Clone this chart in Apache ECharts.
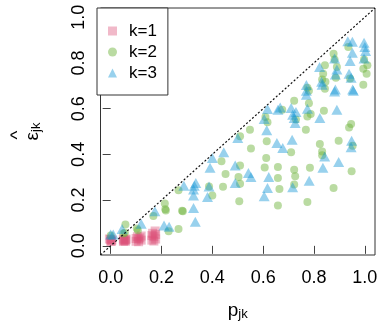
<!DOCTYPE html>
<html lang="en">
<head>
    <meta charset="UTF-8">
    <title>eps hat vs p</title>
    <script src="https://cdn.jsdelivr.net/npm/echarts@6/dist/echarts.min.js"></script>
</head>
<body style="margin:0">
<div id="main" style="width: 381px;height: 328px;"></div>
<script>
    // tick positions on both axes
    var axisTicks = [0, 0.2, 0.4, 0.6, 0.8, 1.0];

    // k=1 : [p, eps]
    var k1 = [[0.0,0.02],[0.005,0.025],[-0.005,0.03],[0.003,0.02],[0.0,0.028],
        [0.05,0.02],[0.055,0.025],[0.06,0.03],[0.052,0.022],[0.058,0.02],[0.06,0.026],[0.05,0.03],
        [0.10,0.02],[0.11,0.03],[0.12,0.025],[0.105,0.04],[0.115,0.035],[0.12,0.043],[0.11,0.018],[0.10,0.032],
        [0.162,0.025],[0.17,0.04],[0.177,0.03],[0.165,0.055],[0.175,0.065],[0.17,0.021],[0.162,0.045],[0.177,0.05]];
    // k=2
    var k2 = [[0.0,0.045],[0.058,0.093],[0.056,0.057],[0.107,0.068],[0.103,0.076],[0.05,0.054],[0.168,0.13],
        [0.213,0.185],[0.217,0.155],[0.215,0.16],[0.281,0.153],[0.228,0.064],[0.267,0.074],[0.267,0.243],
        [0.609,0.563],[0.617,0.54],[0.548,0.508],[0.509,0.479],[0.614,0.457],[0.552,0.426],[0.436,0.37],
        [0.612,0.384],[0.509,0.351],[0.606,0.343],[0.658,0.345],[0.452,0.314],[0.503,0.301],[0.658,0.297],
        [0.387,0.26],[0.509,0.272],[0.442,0.258],[0.664,0.249],[0.4,0.22],[0.506,0.195],[0.658,0.176],[0.284,0.151],
        [0.935,0.869],[0.877,0.84],[0.881,0.815],[0.997,0.815],[0.843,0.79],[0.89,0.782],[1.01,0.79],[0.994,0.774],
        [1.007,0.752],[0.886,0.735],[0.836,0.752],[0.942,0.732],[0.832,0.727],[0.845,0.717],[0.994,0.704],
        [0.774,0.691],[0.843,0.687],[0.78,0.678],[0.722,0.634],[0.78,0.624],[0.675,0.595],[0.729,0.552],
        [0.839,0.591],[0.787,0.576],[0.774,0.566],[0.768,0.508],[0.946,0.533],[0.938,0.518],[0.823,0.445],
        [0.897,0.46],[0.952,0.438],[0.71,0.409],[0.832,0.413],[0.832,0.396],[0.722,0.333],[0.784,0.341],
        [0.948,0.326],[0.726,0.304],[0.722,0.268],[0.877,0.253],[0.774,0.192]];
    // k=3
    var k3 = [[0.0,0.05],[0.01,0.05],[0.045,0.074],[0.12,0.097],[0.174,0.151],[0.21,0.089],[0.23,0.083],[0.288,0.263],
        [0.617,0.598],[0.658,0.595],[0.604,0.555],[0.614,0.505],[0.5,0.472],[0.654,0.45],[0.445,0.409],[0.4,0.384],
        [0.391,0.341],[0.49,0.351],[0.542,0.319],[0.552,0.301],[0.622,0.301],[0.335,0.275],[0.329,0.263],[0.326,0.246],
        [0.387,0.26],[0.49,0.275],[0.617,0.253],[0.326,0.22],[0.381,0.214],[0.604,0.217],[0.326,0.166],[0.333,0.105],
        [0.933,0.895],[0.951,0.892],[0.997,0.888],[1.0,0.869],[1.003,0.852],[0.951,0.844],[0.881,0.819],[0.997,0.819],
        [0.942,0.808],[0.822,0.782],[0.89,0.771],[0.884,0.749],[0.938,0.752],[0.946,0.735],[0.83,0.717],[0.77,0.703],
        [0.884,0.684],[0.952,0.684],[0.832,0.704],[0.881,0.675],[0.955,0.678],[0.77,0.678],[0.77,0.661],[0.774,0.6],
        [0.667,0.605],[0.71,0.603],[0.729,0.585],[0.716,0.573],[0.722,0.559],[0.726,0.537],[0.823,0.559],[0.89,0.595],
        [0.714,0.464],[0.677,0.428],[0.948,0.46],[0.946,0.431],[0.842,0.391],[0.897,0.367],[0.835,0.341],[0.781,0.285],
        [0.716,0.256]];
    // y = x reference line
    var diag = [[-0.04,-0.04],[1.04,1.04]];

    var font = 'Liberation Sans, Arial, sans-serif';
    var myChart = echarts.init(document.getElementById('main'));
    var option = {
        backgroundColor: '#fff',
        animation: false,
        textStyle: {fontFamily: font},
        grid: {
            left: 97, right: 6, top: 8, bottom: 73,
            show: true,
            borderColor: '#333',
            borderWidth: 1
        },
        legend: {
            left: 97, top: 8,
            orient: 'vertical',
            data: ['k=1', 'k=2', 'k=3'],
            itemWidth: 9, itemHeight: 9,
            itemGap: 3,
            padding: [14, 11, 13, 11],
            borderColor: '#333',
            borderWidth: 1,
            backgroundColor: '#fff',
            textStyle: {fontSize: 17, color: '#000', lineHeight: 18, padding: [0, 0, 0, 7]}
        },
        xAxis: {
            type: 'value',
            min: -0.04, max: 1.04,
            name: '{p|p}{sub|jk}',
            nameLocation: 'middle',
            nameGap: 46,
            nameTextStyle: {
                rich: {
                    p: {fontSize: 19, color: '#000', lineHeight: 20},
                    sub: {fontSize: 13, color: '#000', lineHeight: 10, verticalAlign: 'bottom'}
                }
            },
            axisLine: {show: false},
            axisTick: {show: true, length: 8, customValues: axisTicks, lineStyle: {color: '#444'}},
            axisLabel: {
                customValues: axisTicks, margin: 14, fontSize: 18, color: '#000',
                formatter: function (v) { return v.toFixed(1); }
            },
            splitLine: {show: false}
        },
        yAxis: {
            type: 'value',
            min: -0.04, max: 1.04,
            name: '{hat|^}\n{e|ε}{sub|jk}',
            nameLocation: 'middle',
            nameGap: 58,
            nameTextStyle: {
                rich: {
                    hat: {fontSize: 19, color: '#000', lineHeight: 10, padding: [0, 7, 0, 0]},
                    e: {fontSize: 19, color: '#000', lineHeight: 20},
                    sub: {fontSize: 13, color: '#000', lineHeight: 10, verticalAlign: 'bottom'}
                }
            },
            axisLine: {show: false},
            axisTick: {show: true, length: 8, customValues: axisTicks, lineStyle: {color: '#444'}},
            axisLabel: {
                customValues: axisTicks, margin: 12, fontSize: 18, color: '#000', rotate: 90,
                formatter: function (v) { return v.toFixed(1); }
            },
            splitLine: {show: false}
        },
        series: [{
            name: 'diag',
            type: 'line',
            data: diag,
            symbol: 'none',
            silent: true,
            lineStyle: {color: '#111', width: 1.2, type: [2, 2]}
        }, {
            name: 'k=1',
            type: 'scatter',
            symbol: 'rect',
            symbolSize: 9,
            data: k1,
            itemStyle: {color: 'rgba(220,80,120,0.5)'}
        }, {
            name: 'k=2',
            type: 'scatter',
            symbol: 'circle',
            symbolSize: 8,
            data: k2,
            itemStyle: {color: 'rgba(110,180,60,0.6)'}
        }, {
            name: 'k=3',
            type: 'scatter',
            symbol: 'triangle',
            symbolSize: [11, 10],
            data: k3,
            itemStyle: {color: 'rgba(20,150,215,0.55)'}
        }]
    };
    myChart.setOption(option);
</script>
</body>
</html>
